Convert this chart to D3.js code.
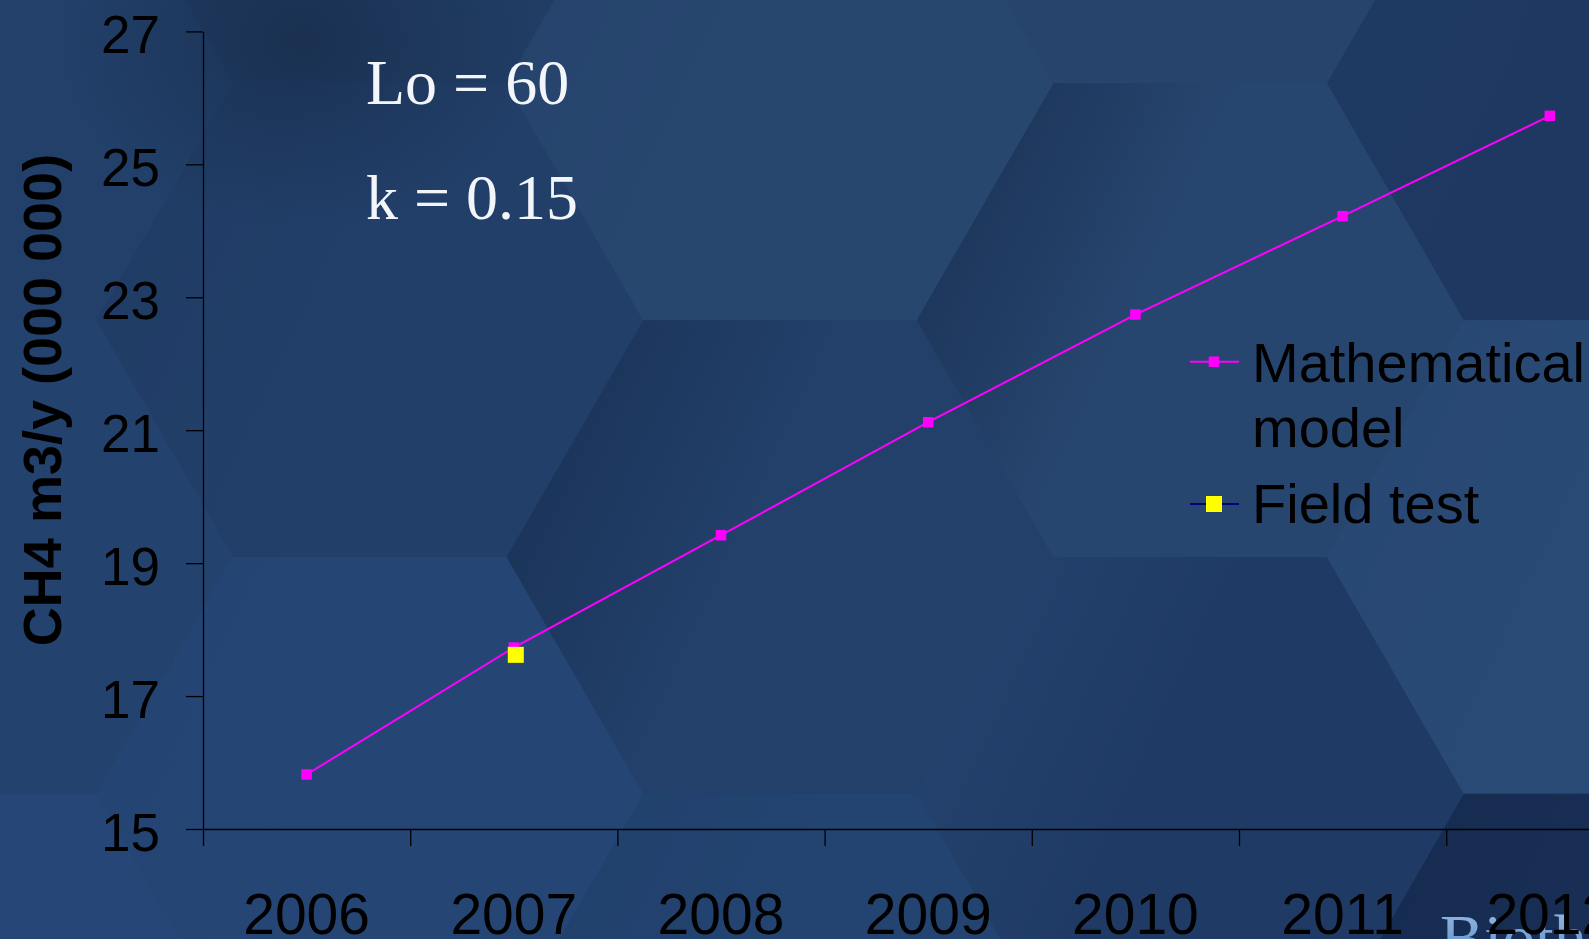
<!DOCTYPE html>
<html><head><meta charset="utf-8">
<script src="https://cdn.jsdelivr.net/npm/d3@7"></script>
<style>
html,body{margin:0;padding:0;background:#22406b;overflow:hidden}
svg{display:block}
</style></head><body>
<svg id="chart" width="1589" height="939"></svg>
<script>
// ---- data ----
const years = ["2006", "2007", "2008", "2009", "2010", "2011", "2012"];
const modelValues = [15.82, 17.73, 19.42, 21.12, 22.74, 24.22, 25.73];
const fieldYears = ["2007"];
const fieldValues = [17.62];
const yTicks = [15, 17, 19, 21, 23, 25, 27];
const yDomain = [15, 27];
const seriesLabels = [["Mathematical", "model"], ["Field test"]];
const paramLines = ["Lo = 60", "k = 0.15"];
const yTitle = "CH4 m3/y (000 000)";
const brandText = "Biothane";

// ---- slide backdrop: shaded hexagon tiles (column, row) -> [shadow, face] ----
const HEX = {r: 273.5, cx: 780, cy: 557};
const hexShades = {
  "-2,-1": ["#213e67", "#22406a"], "-2,0": ["#22406a", "#23426d"], "-2,1": ["#244574", "#254676"],
  "-1,-1": ["#1d3559", "#213d64"], "-1,0": ["#203c65", "#223f69"], "-1,1": ["#244473", "#254675"],
  "0,-1": ["#25436c", "#28476f"], "0,0": ["#1a3156", "#22406a"], "0,1": ["#21406c", "#234370"],
  "1,-1": ["#25436b", "#26446c"], "1,0": ["#1b3256", "#27466f"], "1,1": ["#24436e", "#1f3b65"],
  "2,-1": ["#1f3a62", "#1e3861"], "2,0": ["#284873", "#2a4a76"], "2,1": ["#162b50", "#182e54"]
};

const svg = d3.select("#chart");
const W = 1589, H = 939;
const defs = svg.append("defs");
const bg = svg.append("g");
bg.append("rect").attr("width", W).attr("height", H).attr("fill", "#22406b");

const colStep = HEX.r * 1.5, rowStep = HEX.r * Math.sqrt(3);
const hexPts = (cx, cy) => d3.range(6).map(i => {
  const a = Math.PI / 3 * i;
  return [cx + HEX.r * Math.cos(a), cy + HEX.r * Math.sin(a)];
});
Object.entries(hexShades).forEach(([key, shade], i) => {
  const [k, m] = key.split(",").map(Number);
  const cx = HEX.cx + colStep * k;
  // odd columns sit half a tile higher
  const cy = HEX.cy + rowStep * m - (Math.abs(k) % 2 ? rowStep / 2 : 0);
  const gid = "hx" + i;
  const g = defs.append("linearGradient").attr("id", gid)
    .attr("x1", 0).attr("y1", 0.2).attr("x2", 1).attr("y2", 0.6);
  g.append("stop").attr("offset", 0).attr("stop-color", shade[0]);
  g.append("stop").attr("offset", 0.45).attr("stop-color", shade[1]);
  g.append("stop").attr("offset", 1).attr("stop-color", shade[1]);
  bg.append("path").attr("d", d3.line()(hexPts(cx, cy)) + "Z").attr("fill", `url(#${gid})`);
});
// soft darkening in the upper left corner
const vig = defs.append("radialGradient").attr("id", "vig").attr("cx", 0.5).attr("cy", 0.5).attr("r", 0.5);
vig.append("stop").attr("offset", 0).attr("stop-color", "#13243f").attr("stop-opacity", 0.5);
vig.append("stop").attr("offset", 1).attr("stop-color", "#13243f").attr("stop-opacity", 0);
bg.append("ellipse").attr("cx", 300).attr("cy", 40).attr("rx", 240).attr("ry", 190).attr("fill", "url(#vig)");

// brand wordmark at the lower right
const brandG = defs.append("linearGradient").attr("id", "brand").attr("x1", 0).attr("y1", 0).attr("x2", 0).attr("y2", 1);
brandG.append("stop").attr("offset", 0).attr("stop-color", "#9cc0e8");
brandG.append("stop").attr("offset", 1).attr("stop-color", "#4d7fbf");
bg.append("text").attr("x", 1440).attr("y", 960)
  .attr("font-family", "'Liberation Serif', 'Times New Roman', serif").attr("font-size", 66)
  .attr("fill", "url(#brand)").text(brandText);

// ---- chart ----
const plot = {left: 203, top: 31.4, bottom: 829, step: 207.2};
const x = d3.scaleBand().domain(years).range([plot.left, plot.left + plot.step * years.length]).padding(0);
const xEdge = d3.scaleLinear().domain([0, years.length]).range(x.range());
const y = d3.scaleLinear().domain(yDomain).range([plot.bottom, plot.top]);
const cxOf = d => x(d) + x.bandwidth() / 2;
const sans = "'Liberation Sans', Arial, sans-serif";

// y axis
const yAxis = svg.append("g").attr("transform", `translate(${plot.left},0)`)
  .call(d3.axisLeft(y).tickValues(yTicks).tickSize(17).tickSizeOuter(0).tickPadding(26).tickFormat(d3.format("d")));
yAxis.selectAll("path,line").attr("stroke", "#000").attr("stroke-width", 1.3);
yAxis.selectAll("text").attr("font-family", sans)
  .attr("font-size", 53).attr("fill", "#000").attr("dy", "0.40em");

// x axis: ticks between categories, labels centred in each band
const xAxis = svg.append("g").attr("transform", `translate(0,${plot.bottom})`)
  .call(d3.axisBottom(xEdge).tickValues(d3.range(years.length + 1)).tickSize(17).tickSizeOuter(0).tickFormat(""));
xAxis.selectAll("path,line").attr("stroke", "#000").attr("stroke-width", 1.3);
const xLab = svg.append("g").attr("transform", `translate(0,${plot.bottom})`)
  .call(d3.axisBottom(x).tickSize(0));
xLab.select(".domain").remove();
xLab.selectAll("text").attr("y", 105).attr("dy", 0)
  .attr("font-family", sans).attr("font-size", 57).attr("fill", "#000");

// axis title
svg.append("text").attr("transform", "translate(61,400) rotate(-90)")
  .attr("text-anchor", "middle").attr("font-family", sans)
  .attr("font-weight", "bold").attr("font-size", 54).attr("fill", "#000").text(yTitle);

// model series
const modelData = years.map((yr, i) => ({year: yr, value: modelValues[i]}));
svg.append("path").datum(modelData)
  .attr("d", d3.line().x(d => cxOf(d.year)).y(d => y(d.value)))
  .attr("fill", "none").attr("stroke", "#ff00ff").attr("stroke-width", 2);
const ms = 10.5;
svg.selectAll(".mm").data(modelData).join("rect").attr("class", "mm")
  .attr("x", d => cxOf(d.year) - ms / 2).attr("y", d => y(d.value) - ms / 2)
  .attr("width", ms).attr("height", ms).attr("fill", "#ff00ff");

// field test series
const fieldData = fieldYears.map((yr, i) => ({year: yr, value: fieldValues[i]}));
const fs = 16;
svg.selectAll(".fm").data(fieldData).join("rect").attr("class", "fm")
  .attr("x", d => cxOf(d.year) - fs / 2 + 2).attr("y", d => y(d.value) - fs / 2)
  .attr("width", fs).attr("height", fs).attr("fill", "#ffff00");

// legend
const leg = svg.append("g");
const legItems = [
  {lines: seriesLabels[0], color: "#ff00ff", marker: "#ff00ff", size: ms, ly: 361.7, base: 381.7},
  {lines: seriesLabels[1], color: "#000080", marker: "#ffff00", size: fs, ly: 504, base: 523.3}
];
legItems.forEach(it => {
  leg.append("line").attr("x1", 1190).attr("x2", 1239).attr("y1", it.ly).attr("y2", it.ly)
    .attr("stroke", it.color).attr("stroke-width", 2);
  leg.append("rect").attr("x", 1214 - it.size / 2).attr("y", it.ly - it.size / 2)
    .attr("width", it.size).attr("height", it.size).attr("fill", it.marker);
  const t = leg.append("text").attr("font-family", sans).attr("font-size", 56).attr("fill", "#000");
  it.lines.forEach((ln, j) => t.append("tspan").attr("x", 1252).attr("y", it.base + j * 65).text(ln));
});

// model parameters
paramLines.forEach((p, i) => {
  svg.append("text").attr("x", 366).attr("y", 104 + i * 115.3)
    .attr("font-family", "'Liberation Serif', 'Times New Roman', serif").attr("font-size", 64)
    .attr("fill", "#f2f5f9").text(p);
});
</script>
</body></html>
